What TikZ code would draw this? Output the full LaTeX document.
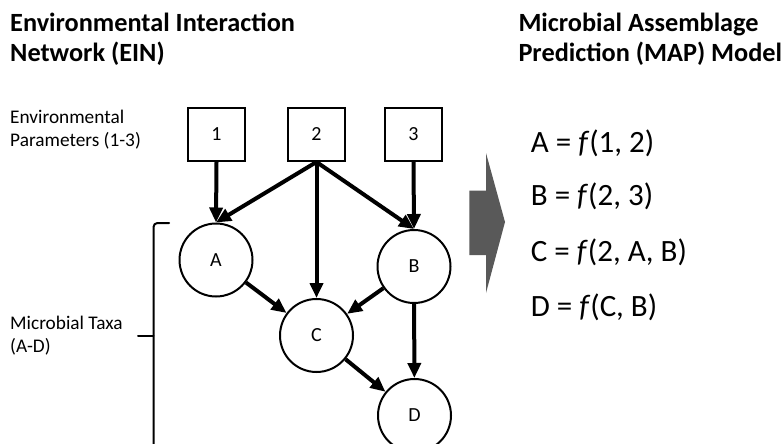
\documentclass[tikz,border=0pt]{standalone}
\usepackage{fontspec}
\setmainfont{Carlito}
\usetikzlibrary{arrows.meta}

\tikzset{
  param/.style={draw, line width=2pt, minimum width=57pt, minimum height=53pt,
    inner sep=0pt, font=\fontsize{20}{20}\selectfont},
  taxon/.style={draw, circle, line width=2pt, minimum size=73pt,
    inner sep=0pt, font=\fontsize{20}{20}\selectfont},
  link/.style={line width=4pt, -{Triangle[length=15pt,width=13pt]}},
  heading/.style={anchor=base west, inner sep=0pt,
    font=\fontsize{26.3}{26.3}\selectfont\bfseries},
  sidelabel/.style={anchor=base west, inner sep=0pt,
    font=\fontsize{19.3}{19.3}\selectfont},
  equation/.style={anchor=base west, inner sep=0pt,
    font=\fontsize{31}{31}\selectfont},
  bracket/.style={line width=2pt, line cap=round}
}

\begin{document}
\begin{tikzpicture}[x=1pt, y=-1pt]
  \useasboundingbox (0,0) rectangle (782,444);
  \clip (0,0) rectangle (782,444);

  % headings
  \node[heading] (einA) at (10,31.7) {Environmental Interaction};
  \node[heading] (einB) at (10,61.5) {Network (EIN)};
  \node[heading] (mapA) at (518.3,31.7) {Microbial Assemblage};
  \node[heading] (mapB) at (518.3,61.5) {Prediction (MAP) Model};

  % side labels
  \node[sidelabel] (envA) at (10,123.3) {Environmental};
  \node[sidelabel] (envB) at (10,146.8) {Parameters (1-3)};
  \node[sidelabel] (taxA) at (10,329.3) {Microbial Taxa};
  \node[sidelabel] (taxB) at (10,352.8) {(A-D)};

  % environmental parameters
  \node[param] (p1) at (216.5,134.5) {1};
  \node[param] (p2) at (316.5,134.5) {2};
  \node[param] (p3) at (413.5,134.5) {3};

  % microbial taxa
  \node[taxon] (A) at (216,260) {A};
  \node[taxon] (B) at (414,266.5) {B};
  \node[taxon] (C) at (316.5,335.5) {C};
  \node[taxon] (D) at (414.5,415.5) {D};

  % interactions
  \draw[link] (p1.south) -- (A.north);
  \draw[link] (p2.south) -- (A.north);
  \draw[link] (p2.south) -- (C.north);
  \draw[link] (p2.south) -- (B.north);
  \draw[link] (p3.south) -- (B.north);
  \draw[link] (A) -- (C);
  \draw[link] (B) -- (C);
  \draw[link] (B) -- (D);
  \draw[link] (C) -- (D);

  % bracket grouping the taxa
  \coordinate (brTop) at (169,223);
  \coordinate (brMid) at (138,336);
  \draw[bracket, rounded corners=4pt] (brTop) -- (153.5,223) -- (153.5,460);
  \draw[bracket] (brMid) -- (153.5,336);

  % block arrow
  \fill[fill=black!65] (469.3,190.7) -- (486,190.7) -- (486,153) -- (505,222)
    -- (486,293) -- (486,255) -- (469.3,255) -- cycle;

  % model equations
  \node[equation] (eqA) at (530.7,152.7) {A = \textit{f}(1, 2)};
  \node[equation] (eqB) at (530.7,205) {B = \textit{f}(2, 3)};
  \node[equation] (eqC) at (530.7,261.7) {C = \textit{f}(2, A, B)};
  \node[equation] (eqD) at (530.7,316.7) {D = \textit{f}(C, B)};
\end{tikzpicture}
\end{document}
